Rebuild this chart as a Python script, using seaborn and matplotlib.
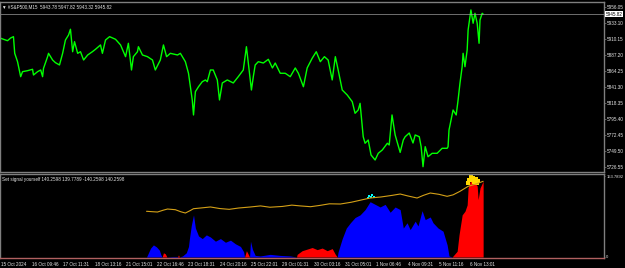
import numpy as np
import pandas as pd
import matplotlib
matplotlib.use("Agg")
import matplotlib.pyplot as plt
import matplotlib.transforms as mtrans
import seaborn as sns

# ---------------- data ----------------
# price (M15 bar index, close)
price_bar = [0, 22, 32, 41, 45, 54, 64, 70, 86, 102, 105, 118, 128, 134, 137, 150, 153, 166, 175, 188,
             198, 207, 217, 223, 230, 236, 246, 255, 265, 278, 293, 303, 319, 325, 335, 348, 367, 383, 399, 408,
             418, 424, 437, 440, 453, 469, 485, 494, 510, 520, 530, 542, 565, 574, 590, 600, 612, 616, 622, 632,
             644, 654, 660, 670, 679, 692, 699, 708, 724, 743, 759, 775, 785, 791, 801, 807, 813, 823, 839, 855,
             868, 877, 893, 909, 925, 941, 951, 967, 979, 995, 1008, 1021, 1034, 1046, 1059, 1069, 1078, 1091, 1107, 1123,
             1132, 1142, 1148, 1158, 1164, 1174, 1183, 1196, 1206, 1219, 1235, 1241, 1250, 1260, 1276, 1286, 1292, 1305, 1317, 1324,
             1337, 1343, 1349, 1356, 1365, 1378, 1394, 1410, 1426, 1429, 1432, 1445, 1455, 1461, 1467, 1474, 1477, 1483, 1490, 1493,
             1502, 1509, 1515, 1522, 1528, 1531, 1538, 1541]
price_close = [5911.2, 5907.7, 5911.6, 5913.5, 5889.6, 5877.6, 5856.1, 5863.3, 5864.7, 5866.7, 5858.5, 5863.3, 5865.7, 5856.1, 5868.1, 5884.8, 5889.6, 5880.0, 5876.2, 5872.9,
               5889.6, 5908.7, 5915.9, 5924.1, 5891.9, 5906.3, 5889.6, 5891.9, 5880.0, 5887.2, 5891.9, 5895.4, 5901.6, 5889.6, 5908.7, 5913.5, 5909.7, 5901.6, 5884.8, 5904.0,
               5865.7, 5884.8, 5891.9, 5899.1, 5887.2, 5884.8, 5880.0, 5865.7, 5880.0, 5901.6, 5884.8, 5889.6, 5887.2, 5889.6, 5877.6, 5861.0, 5822.7, 5801.2, 5834.6, 5841.7,
               5848.9, 5851.4, 5848.9, 5865.7, 5865.7, 5851.4, 5822.7, 5847.1, 5851.4, 5847.1, 5856.1, 5865.7, 5899.1, 5875.7, 5837.0, 5856.1, 5872.9, 5877.6, 5875.7, 5881.0,
               5868.6, 5875.7, 5861.0, 5861.0, 5856.1, 5868.6, 5861.0, 5841.7, 5868.6, 5882.5, 5891.9, 5877.6, 5884.8, 5880.0, 5851.4, 5884.8, 5865.7, 5837.0, 5829.8, 5820.2,
               5803.6, 5808.3, 5817.9, 5770.0, 5760.6, 5765.3, 5743.8, 5736.6, 5746.2, 5751.0, 5760.6, 5758.1, 5801.2, 5772.5, 5747.5, 5765.3, 5770.0, 5775.3, 5761.0, 5772.5,
               5770.0, 5755.7, 5727.0, 5755.7, 5741.3, 5746.2, 5746.2, 5753.4, 5753.4, 5755.7, 5779.6, 5808.3, 5801.2, 5822.7, 5846.6, 5870.4, 5889.6, 5870.4, 5894.4, 5923.1,
               5951.8, 5932.7, 5947.0, 5932.7, 5904.0, 5937.4, 5947.0, 5945.82]

# indicator histogram (bar index, value, colour class)
hist_bar = [466, 479, 488, 498, 507, 512, 516, 520, 526, 531, 549, 565, 568, 571, 581, 593, 600, 603, 609, 616, 622, 632, 644, 657,
            670, 686, 702, 718, 734, 750, 766, 776, 779, 785, 791, 795, 798, 804, 813, 829, 861, 893, 925, 945, 947, 963, 979,
            995, 1011, 1027, 1043, 1059, 1069, 1075, 1078, 1091, 1104, 1117, 1132, 1148, 1164, 1180, 1196, 1212, 1228, 1244, 1260, 1276,
            1286, 1298, 1308, 1324, 1333, 1346, 1356, 1372, 1381, 1397, 1413, 1426, 1432, 1442, 1445, 1458, 1464, 1474, 1483, 1490,
            1493, 1502, 1509, 1522, 1525, 1531, 1541]
hist_val = [0, 17, 23, 19, 13, 4, 0, 8, 6, 0, 1, 1, 4, 0, 2, 8, 20, 35, 60, 80, 55, 40, 35, 42,
            38, 30, 35, 28, 32, 25, 20, 10, 0, 12, 5, 0, 30, 15, 3, 2, 5, 3, 2, 0, 5, 12, 15,
            18, 14, 17, 12, 16, 5, 0, 10, 35, 55, 65, 75, 80, 90, 105, 100, 95, 100, 85, 95, 90,
            55, 65, 52, 68, 59, 88, 71, 76, 65, 55, 49, 23, 2, 0, 2, 11, 42, 80, 87, 99,
            131, 147, 144, 135, 109, 131, 144]
hist_dir = ["b", "b", "b", "b", "b", "b", "r", "r", "r", "b", "b", "b", "r", "b", "b", "b", "b", "b", "b", "b", "b", "b", "b", "b",
            "b", "b", "b", "b", "b", "b", "b", "b", "r", "r", "r", "b", "b", "b", "b", "b", "b", "b", "b", "r", "r", "r", "r",
            "r", "r", "r", "r", "r", "r", "b", "b", "b", "b", "b", "b", "b", "b", "b", "b", "b", "b", "b", "b", "b",
            "b", "b", "b", "b", "b", "b", "b", "b", "b", "b", "b", "b", "b", "r", "r", "r", "r", "r", "r", "r",
            "r", "r", "r", "r", "r", "r", "r"]

# yellow signal line
sig_bar = [466, 485, 501, 520, 533, 558, 575, 590, 605, 616, 638, 670, 700, 730, 760, 798, 830, 860, 900, 930,
           957, 990, 1020, 1050, 1085, 1120, 1150, 1180, 1215, 1250, 1276, 1300, 1330, 1350, 1372, 1400, 1426, 1445, 1467, 1493, 1515, 1541]
sig_val = [86.8, 86.0, 85.4, 89.0, 91.1, 89.8, 86.0, 83.5, 88.0, 91.7, 93.0, 95.0, 92.0, 90.5, 93.0, 95.0, 97.0, 94.5, 96.0, 98.5,
           97.0, 95.5, 98.0, 101.0, 100.6, 104.0, 108.0, 112.0, 114.0, 117.0, 119.6, 116.0, 112.0, 117.0, 121.5, 119.0, 115.2, 118.0, 124.7, 134.2, 138.0, 143.7]

# signal markers
cyan_bar = [1172, 1177, 1182, 1187, 1192]
cyan_val = [112, 116, 114, 117, 113]
gold_bar = [1493, 1497, 1501, 1505, 1509, 1513, 1517, 1521, 1525]
gold_val = [140, 147, 152, 146, 150, 143, 148, 141, 144]

xtick_bars = [0, 100, 200, 300, 400, 500, 600, 700, 800, 900, 1000, 1100, 1200, 1300, 1400, 1500]
xtick_labels = ["15 Oct 2024", "16 Oct 09:46", "17 Oct 11:31", "18 Oct 13:16", "21 Oct 15:01", "22 Oct 16:46",
                "23 Oct 18:31", "24 Oct 20:16", "25 Oct 22:01", "29 Oct 01:31", "30 Oct 03:16", "31 Oct 05:01",
                "1 Nov 06:46", "4 Nov 09:31", "5 Nov 11:16", "6 Nov 13:01"]
price_ticks = [5726.55, 5749.50, 5772.45, 5795.40, 5818.35, 5841.30, 5864.25, 5887.20, 5910.15, 5933.10, 5956.05]
last_price = 5945.82
title_text = "\u25bc #S&P500,M15  5943.78 5947.82 5943.32 5945.82"
ind_text = "Set signal yourself 140.2598 139.7789 -140.2598 140.2598"
ind_max = 153.7892

# ---------------- style ----------------
sns.set_style("dark")
plt.rcParams["font.family"] = ["Liberation Sans", "DejaVu Sans"]
FS = 3.3
GRAY = "#7f7f7f"
TXT = "#e6e6e6"

W, H = 625, 268
fig = plt.figure(figsize=(W / 100, H / 100), dpi=100, facecolor="black")
ax1 = fig.add_axes([0, (H - 172) / H, 604 / W, 170 / H])
ax2 = fig.add_axes([0, (H - 258) / H, 604 / W, 84 / H])

for ax in (ax1, ax2):
    ax.set_facecolor("black")
    ax.grid(False)
    for s in ax.spines.values():
        s.set_color(GRAY)
        s.set_linewidth(1.0)
    ax.set_xlim(-2, 1927)

# price panel
dfp = pd.DataFrame({"bar": price_bar, "close": price_close})
sns.lineplot(data=dfp, x="bar", y="close", ax=ax1, color="#00ff00", lw=1.0, legend=False)
ax1.axhline(last_price, color="#9a9a9a", lw=0.5)
ax1.set_ylim(5719.4, 5963.2)
ax1.set_xticks([])
ax1.yaxis.tick_right()
ax1.set_yticks(price_ticks)
ax1.set_yticklabels([f"{v:.2f}" for v in price_ticks], fontsize=FS, color=TXT)
ax1.tick_params(axis="y", length=1.2, width=0.5, color=GRAY, pad=0.8)
ax1.set_xlabel("")
ax1.set_ylabel("")
trans = mtrans.blended_transform_factory(ax1.transAxes, ax1.transData)
ax1.text(1.003, last_price, f"{last_price:.2f}", transform=trans, fontsize=FS, color="black",
         va="center", ha="left", bbox=dict(boxstyle="square,pad=0.15", fc="white", ec="white", lw=0))
ax1.text(0.004, 0.985, title_text, transform=ax1.transAxes, fontsize=FS, color=TXT, va="top", ha="left")

# indicator panel
dfh = pd.DataFrame({"bar": hist_bar, "val": hist_val, "dir": hist_dir})
blue = np.where(dfh["dir"] == "b", dfh["val"], 0)
red = np.where(dfh["dir"] == "r", dfh["val"], 0)
ax2.fill_between(dfh["bar"], 0, blue, color="#0000ff", lw=0)
ax2.fill_between(dfh["bar"], 0, red, color="#ff0000", lw=0)
dfs = pd.DataFrame({"bar": sig_bar, "val": sig_val})
sns.lineplot(data=dfs, x="bar", y="val", ax=ax2, color="#d4a017", lw=0.8, legend=False)
sns.scatterplot(x=cyan_bar, y=cyan_val, ax=ax2, color="#00ffff", s=4, marker="s", lw=0)
sns.scatterplot(x=gold_bar, y=gold_val, ax=ax2, color="#ffd700", s=7, marker="s", lw=0)
ax2.set_ylim(-1.9, 157.6)
ax2.yaxis.tick_right()
ax2.set_yticks([0, ind_max])
ax2.set_yticklabels(["0", f"{ind_max:.4f}"], fontsize=3.0, color=TXT)
ax2.tick_params(axis="y", length=1.0, width=0.5, color=GRAY, pad=0.6)
ax2.set_xticks(xtick_bars)
ax2.set_xticklabels(xtick_labels, fontsize=FS, color=TXT, ha="left")
ax2.tick_params(axis="x", length=2, width=0.5, color=GRAY, pad=1)
ax2.spines["bottom"].set_color("#b06060")
ax2.set_xlabel("")
ax2.set_ylabel("")
ax2.text(0.004, 0.97, ind_text, transform=ax2.transAxes, fontsize=FS, color=TXT, va="top", ha="left")

fig.savefig("out.png", dpi=100, facecolor="black")
